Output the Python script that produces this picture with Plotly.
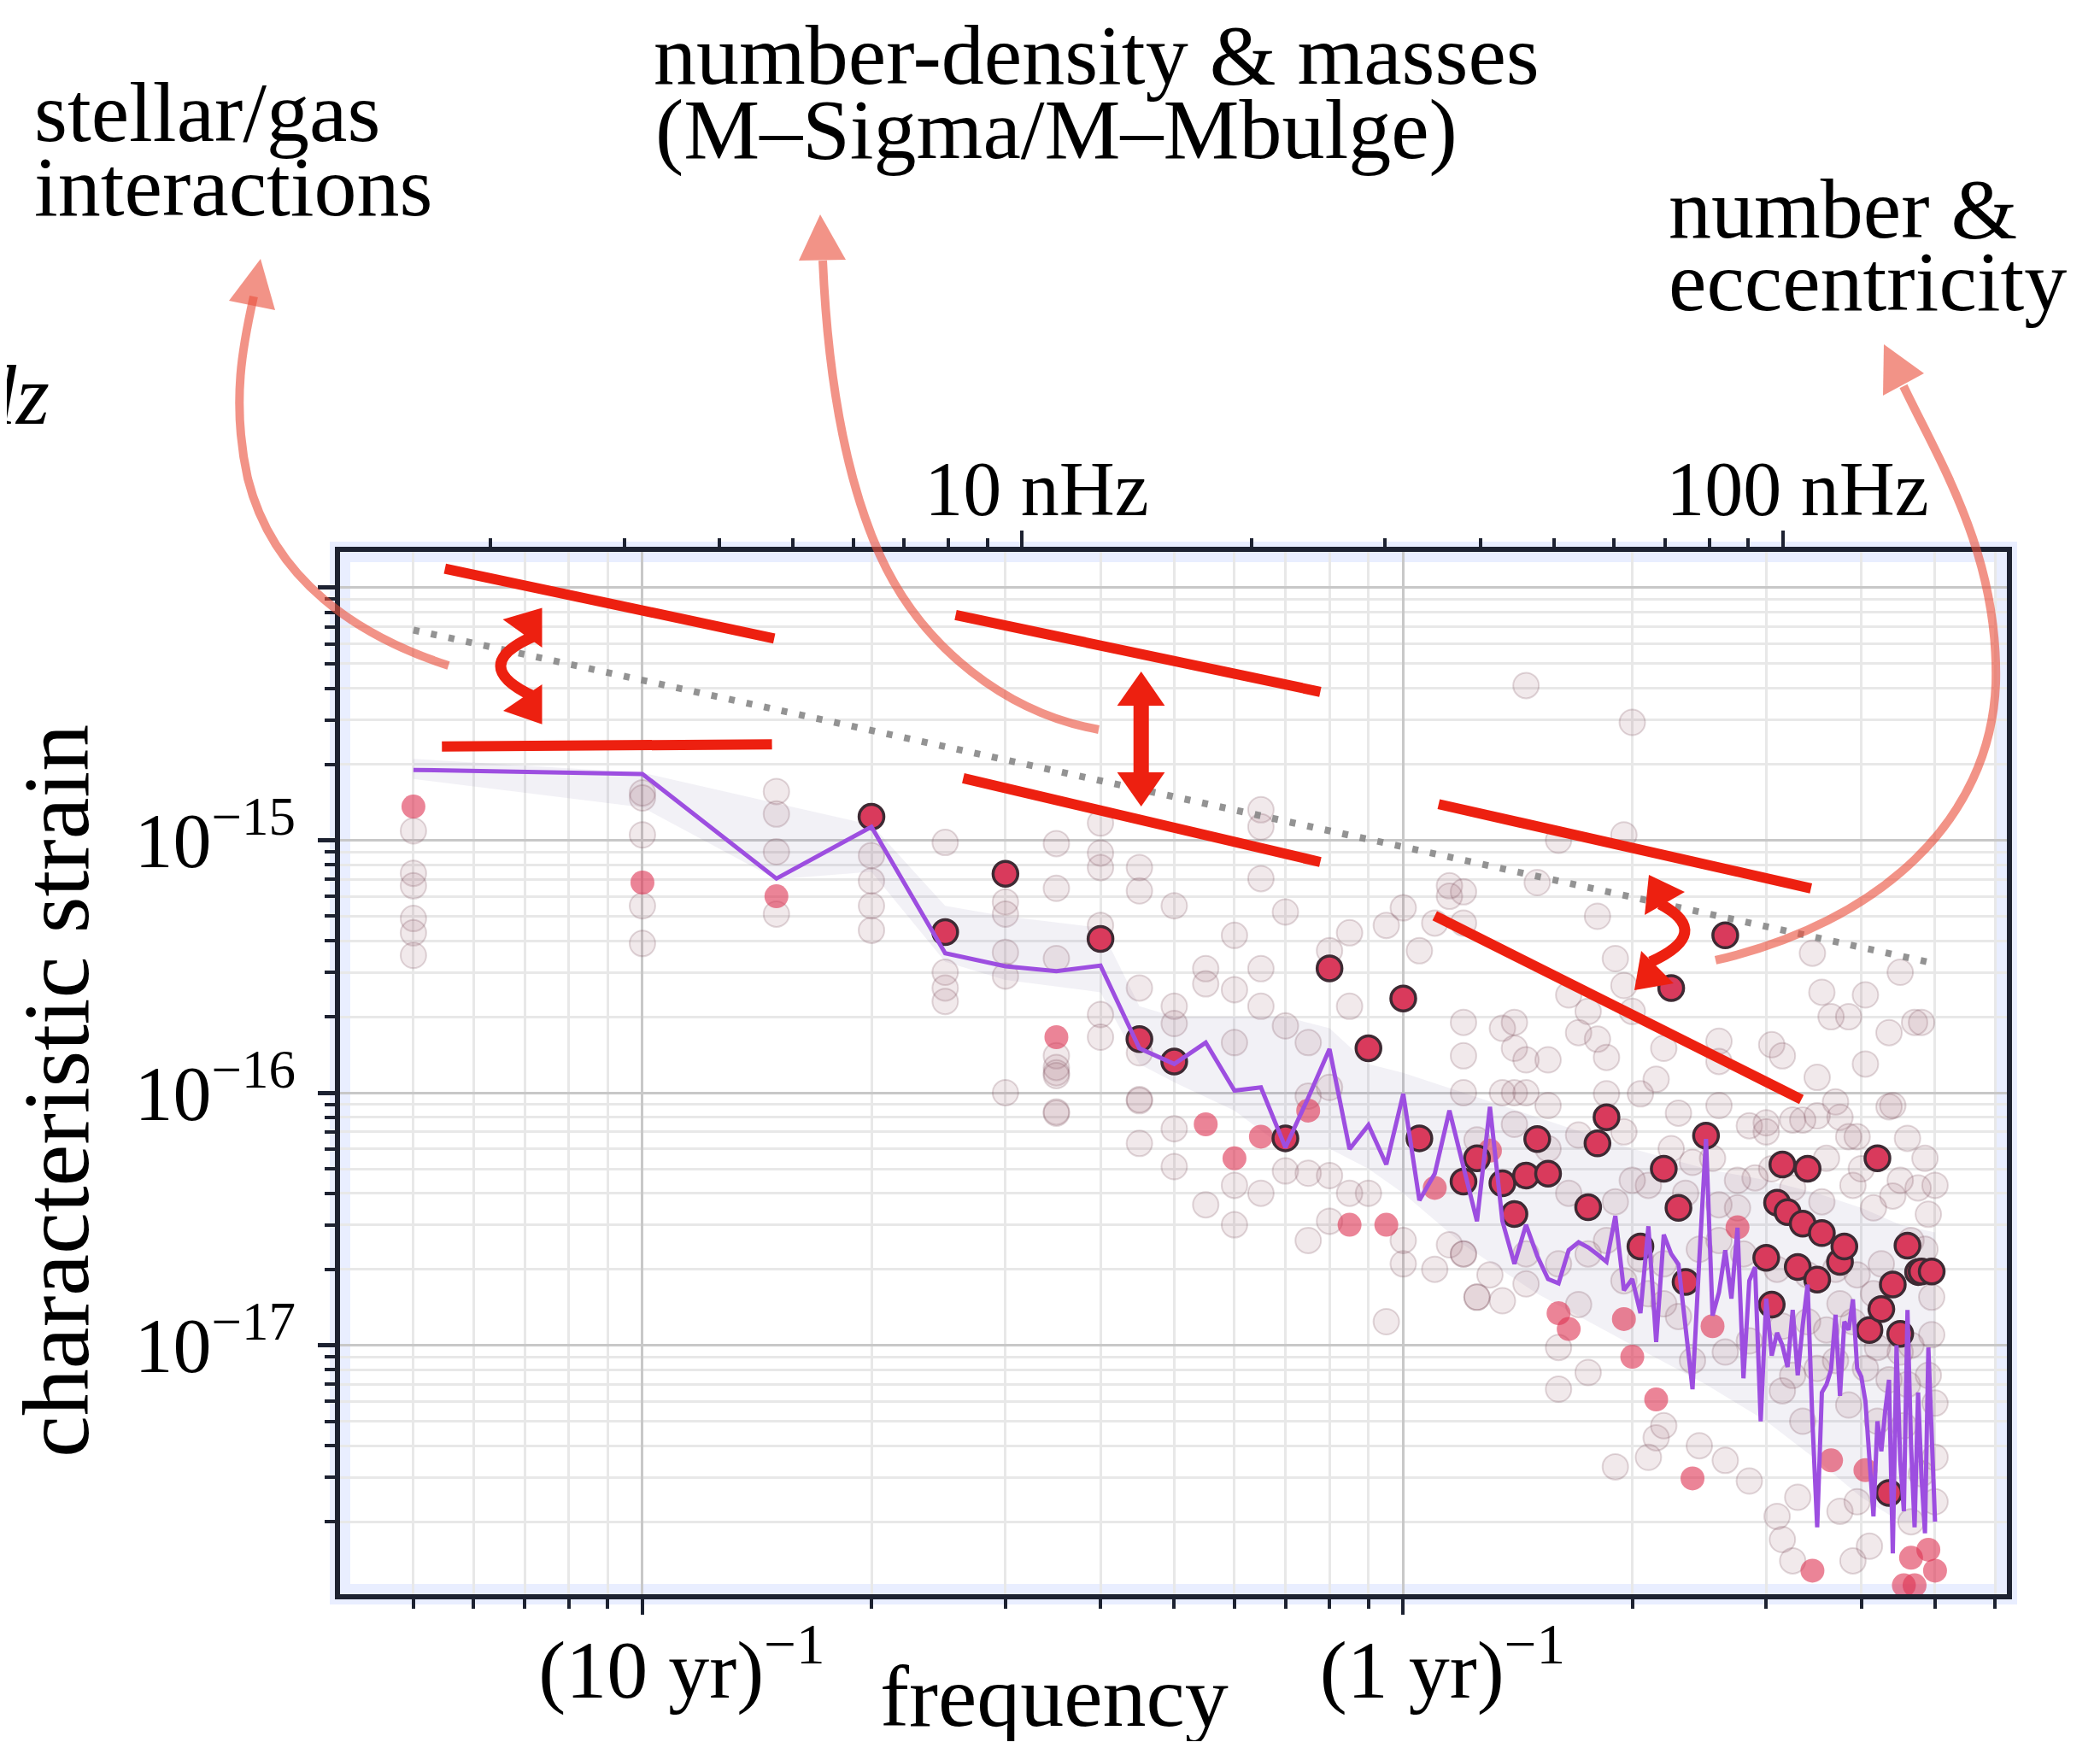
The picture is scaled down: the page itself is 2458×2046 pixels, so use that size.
import plotly.graph_objects as go

# ---------------- data ----------------
freq = [0.05, 0.10, 0.15, 0.20, 0.25, 0.30, 0.35, 0.40, 0.45, 0.50,
        0.55, 0.60, 0.65, 0.70, 0.75, 0.80, 0.85, 0.90, 0.95, 1.00,
        1.05, 1.10, 1.15, 1.20, 1.25, 1.30, 1.35, 1.40, 1.45, 1.50,
        1.55, 1.60, 1.65, 1.70, 1.75, 1.80, 1.85, 1.90, 1.95, 2.00,
        2.05, 2.10, 2.15, 2.20, 2.25, 2.30, 2.35, 2.40, 2.45, 2.50,
        2.55, 2.60, 2.65, 2.70, 2.75, 2.80, 2.85, 2.90, 2.95, 3.00,
        3.05, 3.10, 3.15, 3.20, 3.25, 3.30, 3.35, 3.40, 3.45, 3.50,
        3.55, 3.60, 3.65, 3.70, 3.75, 3.80, 3.85, 3.90, 3.95, 4.00,
        4.05, 4.10, 4.15, 4.20, 4.25, 4.30, 4.35, 4.40, 4.45, 4.50,
        4.55, 4.60, 4.65, 4.70, 4.75, 4.80, 4.85, 4.90, 4.95, 5.00]

median_h = [1.90e-15, 1.83e-15, 7.05e-16, 1.13e-15, 3.57e-16, 3.17e-16, 3.03e-16, 3.19e-16, 1.50e-16, 1.30e-16,
            1.58e-16, 1.02e-16, 1.05e-16, 6.07e-17, 9.55e-17, 1.49e-16, 5.98e-17, 7.45e-17, 5.2e-17, 9.9e-17,
            3.75e-17, 4.78e-17, 8.5e-17, 5.1e-17, 3.1e-17, 8.8e-17, 3.1e-17, 2.1e-17, 3.0e-17, 2.26e-17,
            1.83e-17, 1.76e-17, 2.38e-17, 2.56e-17, 2.44e-17, 2.29e-17, 2.14e-17, 3.25e-17, 1.65e-17, 1.83e-17,
            1.34e-17, 2.96e-17, 1.03e-17, 2.74e-17, 2.3e-17, 2.09e-17, 1.17e-17, 6.7e-18, 2.2e-17, 6.56e-17,
            1.31e-17, 1.62e-17, 2.38e-17, 1.53e-17, 2.92e-17, 7.4e-18, 1.8e-17, 2.04e-17, 5.0e-18, 1.53e-17,
            9.1e-18, 1.12e-17, 1.0e-17, 8.2e-18, 1.38e-17, 7.6e-18, 1.2e-17, 1.74e-17, 5.0e-18, 1.9e-18,
            6.5e-18, 7.0e-18, 8.0e-18, 1.32e-17, 6.3e-18, 1.24e-17, 1.15e-17, 1.52e-17, 8.1e-18, 7.5e-18,
            6.0e-18, 3.5e-18, 2.1e-18, 5.0e-18, 3.8e-18, 5.5e-18, 7.3e-18, 1.5e-18, 1.0e-17, 3.5e-18,
            2.2e-18, 1.38e-17, 4.0e-18, 1.9e-18, 6.5e-18, 3.0e-18, 1.8e-18, 9.8e-18, 4.0e-18, 2.0e-18]

# one highlighted realisation (outlined markers)
real_f = [0.20, 0.25, 0.30, 0.40, 0.45, 0.50, 0.70, 0.80, 0.90, 1.00,
          1.05, 1.20, 1.25, 1.35, 1.40, 1.45, 1.50, 1.55, 1.75, 1.80,
          1.85, 2.05, 2.20, 2.25, 2.30, 2.35, 2.50, 2.65, 3.00, 3.05,
          3.10, 3.15, 3.20, 3.30, 3.35, 3.40, 3.50, 3.55, 3.75, 3.80,
          4.10, 4.20, 4.25, 4.35, 4.40, 4.50, 4.60, 4.75, 4.80, 4.95]
real_h = [1.24e-15, 4.33e-16, 7.36e-16, 4.07e-16, 1.63e-16, 1.33e-16, 6.6e-17, 3.11e-16, 1.50e-16, 2.36e-16,
          6.6e-17, 4.45e-17, 5.5e-17, 4.38e-17, 3.31e-17, 4.7e-17, 6.56e-17, 4.78e-17, 3.52e-17, 6.3e-17,
          8.0e-17, 2.46e-17, 5.0e-17, 2.6e-16, 3.5e-17, 1.78e-17, 6.76e-17, 4.2e-16, 2.22e-17, 1.45e-17,
          3.67e-17, 5.2e-17, 3.37e-17, 2.04e-17, 3.03e-17, 5.0e-17, 1.82e-17, 2.78e-17, 2.14e-17, 2.46e-17,
          1.15e-17, 5.5e-17, 1.39e-17, 2.6e-18, 1.74e-17, 1.11e-17, 2.48e-17, 1.95e-17, 1.96e-17, 1.96e-17]

# second highlighted realisation (plain red markers)
pink_f = [0.05, 0.10, 0.15, 0.35, 0.55, 0.60, 0.65, 0.75, 0.85, 0.95,
          1.10, 1.30, 1.60, 1.65, 1.95, 2.00, 2.15, 2.40, 2.55, 2.75,
          3.45, 3.65, 4.05, 4.55, 4.65, 4.70, 4.90, 5.00]
pink_h = [1.36e-15, 6.8e-16, 6.0e-16, 1.66e-16, 7.5e-17, 5.5e-17, 6.7e-17, 8.5e-17, 3.0e-17, 3.0e-17,
          4.2e-17, 5.9e-17, 1.34e-17, 1.16e-17, 1.27e-17, 9.0e-18, 6.1e-18, 2.97e-18, 1.19e-17, 2.93e-17,
          1.28e-18, 3.5e-18, 3.2e-18, 1.12e-18, 1.44e-18, 1.12e-18, 1.55e-18, 1.28e-18]

# faint markers from the other realisations
faint_f = [0.05, 0.05, 0.05, 0.05, 0.05, 0.05, 0.10, 0.10, 0.10, 0.10, 0.10,
           0.15, 0.15, 0.15, 0.15, 0.20, 0.20, 0.20, 0.20, 0.25, 0.25, 0.25, 0.25,
           0.30, 0.30, 0.30, 0.30, 0.30, 0.35, 0.35, 0.35, 0.35, 0.35, 0.35,
           0.40, 0.40, 0.40, 0.40, 0.40, 0.40, 0.45, 0.45, 0.45, 0.45, 0.45,
           0.50, 0.50, 0.50, 0.55, 0.55, 0.60, 0.60, 0.60, 0.65, 0.65, 0.65, 0.65, 0.65,
           0.70, 0.70, 0.75, 0.75, 0.80, 0.80, 0.85, 0.85, 0.95, 1.00,
           1.05, 1.10, 1.15, 1.20, 1.20,
           0.35, 0.35, 0.35, 0.45, 0.45, 0.50, 0.50, 0.55, 0.60, 0.60, 0.75, 0.75, 0.65, 0.70,
           0.80, 0.80, 0.95, 0.90, 1.00, 1.10, 1.15, 1.20, 1.25, 1.00, 0.85,
           1.45, 2.00, 1.60, 1.95, 1.50, 1.80, 1.90, 3.45, 4.50, 3.55, 4.05, 3.65, 3.85, 4.35,
           4.70, 4.80, 4.05, 3.50, 3.05, 3.15, 2.60, 2.60, 2.20, 1.95, 2.00, 1.65, 1.75, 1.70,
           1.80, 1.85, 1.35, 1.40, 1.40, 1.45, 1.20, 1.20, 1.55, 2.15, 1.15,
           1.20, 1.35, 1.40, 1.45, 1.55, 1.85, 2.05, 2.30, 2.60, 2.85, 3.00, 3.25, 3.50, 3.75,
           3.85, 4.35, 4.60, 5.00, 4.90, 4.75, 4.40, 4.15, 3.90, 3.55, 3.25, 2.90, 2.75, 2.60,
           2.40, 2.10, 1.90, 1.85, 1.75, 1.60, 1.45, 1.30, 1.20, 1.25, 1.35, 1.45, 1.70, 1.60,
           1.60, 1.75, 1.90, 2.15, 2.20, 2.10, 2.45, 2.65, 2.85, 3.10, 3.30, 3.15, 3.25, 3.75,
           3.90, 4.10, 3.95, 4.20, 4.55, 5.00, 5.00, 5.00, 4.95, 4.90, 4.80, 4.65, 3.35, 3.25,
           3.15, 3.50, 3.70, 3.85, 4.05, 4.35, 4.60, 4.65, 4.50, 4.20, 3.90, 3.60, 3.40, 3.15,
           2.85, 2.65, 2.40, 2.30, 2.20, 2.10, 1.95, 2.05, 2.20, 2.45, 2.60, 2.80, 3.10, 3.40,
           3.70, 3.95, 4.25, 4.65, 4.85, 4.95, 4.15, 3.75, 3.00, 3.35, 3.70, 3.95, 4.40,
           1.25, 1.40, 1.55, 1.70, 1.95, 2.25, 2.55, 1.65, 2.00, 2.35, 2.75, 3.05, 3.60, 4.00,
           4.50, 4.85]
faint_h = [1.09e-15, 7.4e-16, 6.6e-16, 4.9e-16, 4.3e-16, 3.5e-16, 1.54e-15, 1.47e-15, 1.05e-15, 5.5e-16, 3.9e-16,
           1.56e-15, 1.27e-15, 9.0e-16, 5.1e-16, 8.7e-16, 6.9e-16, 5.5e-16, 4.4e-16, 9.8e-16, 3.0e-16, 2.6e-16, 2.3e-16,
           5.7e-16, 5.1e-16, 3.6e-16, 2.9e-16, 1.0e-16, 9.7e-16, 6.45e-16, 3.4e-16, 1.4e-16, 1.2e-16, 8.4e-17,
           1.17e-15, 8.9e-16, 7.8e-16, 4.6e-16, 2.04e-16, 1.66e-16, 7.8e-16, 6.3e-16, 2.6e-16, 1.44e-16, 9.3e-17,
           5.5e-16, 2.2e-16, 1.88e-16, 3.1e-16, 2.7e-16, 4.2e-16, 2.56e-16, 1.58e-16, 1.32e-15, 1.13e-15, 7.05e-16, 3.1e-16, 2.2e-16,
           5.2e-16, 1.84e-16, 1.58e-16, 9.7e-17, 3.65e-16, 1.05e-16, 4.3e-16, 2.2e-16, 4.6e-16, 5.4e-16,
           3.65e-16, 4.7e-16, 6.6e-16, 6.25e-16, 4.7e-16,
           1.26e-16, 1.17e-16, 8.3e-17, 9.4e-17, 6.3e-17, 7.2e-17, 5.1e-17, 3.6e-17, 4.3e-17, 3.0e-17, 4.8e-17, 2.6e-17, 4.0e-17, 4.9e-17,
           4.7e-17, 3.1e-17, 1.24e-17, 4.0e-17, 2.1e-17, 2.0e-17, 2.5e-17, 2.3e-17, 1.55e-17, 2.6e-17, 4.0e-17,
           4.1e-15, 2.93e-15, 1.0e-15, 1.05e-15, 6.8e-16, 5.0e-16, 3.4e-16, 3.57e-16, 3.0e-16, 2.5e-16, 2.44e-16, 2.0e-16, 2.0e-16, 1.73e-16,
           1.9e-16, 1.9e-16, 1.3e-16, 1.15e-16, 1.55e-16, 1.4e-16, 1.6e-16, 1.33e-16, 1.5e-16, 2.66e-16, 2.1e-16, 2.44e-16, 2.1e-16, 1.73e-16,
           1.63e-16, 1.38e-16, 1.8e-16, 1.9e-16, 1.5e-16, 1.35e-16, 1.9e-16, 1.4e-16, 1.35e-16, 1.13e-16, 6.0e-16,
           1.0e-16, 1.0e-16, 1.0e-16, 1.0e-16, 8.9e-17, 9.9e-17, 9.9e-17, 8.3e-17, 8.9e-17, 7.4e-17, 7.6e-17, 7.8e-17, 8.1e-17, 8.0e-17,
           6.7e-17, 8.8e-17, 6.6e-17, 4.3e-17, 3.3e-17, 4.2e-17, 3.9e-17, 3.5e-17, 4.3e-17, 3.7e-17, 4.2e-17, 4.6e-17, 4.5e-17, 3.6e-17,
           5.3e-17, 4.3e-17, 3.7e-17, 2.6e-17, 2.3e-17, 2.1e-17, 2.3e-17, 1.9e-17, 2.3e-17, 1.55e-17, 1.5e-17, 1.75e-17, 1.45e-17, 9.8e-18,
           6.7e-18, 7.8e-18, 3.3e-18, 4.3e-18, 4.8e-18, 3.6e-18, 4.0e-18, 3.5e-18, 2.9e-18, 2.1e-18, 2.5e-18, 1.7e-18, 1.4e-18, 2.2e-18,
           1.4e-18, 1.6e-18, 2.4e-18, 5.0e-18, 4.8e-18, 2.4e-18, 3.6e-18, 5.9e-18, 1.1e-17, 7.6e-18, 3.1e-18, 2.0e-18, 5.0e-18, 7.6e-18,
           6.6e-18, 8.1e-18, 8.7e-18, 5.8e-18, 8.1e-18, 7.3e-18, 7.0e-18, 1.0e-17, 9.4e-18, 9.8e-18, 1.24e-17, 1.15e-17, 1.24e-17, 1.19e-17,
           1.04e-17, 9.4e-18, 8.7e-18, 1.3e-17, 1.46e-17, 1.6e-17, 1.8e-17, 2.2e-17, 2.1e-17, 2.4e-17, 2.6e-17, 2.3e-17, 2.0e-17, 1.9e-17,
           2.0e-17, 1.9e-17, 2.1e-17, 2.6e-17, 2.4e-17, 1.55e-17, 1.6e-17, 1.46e-17, 7.0e-17, 7.8e-17, 9.2e-17, 6.7e-17, 8.9e-17,
           6.5e-17, 7.5e-17, 6.0e-17, 6.8e-17, 7.0e-17, 6.0e-17, 5.5e-17, 4.0e-17, 4.5e-17, 4.0e-17, 3.5e-17, 5.0e-17, 5.5e-17, 5.0e-17,
           4.5e-17, 5.5e-17]

# envelope of the faint realisation lines
band_f = [0.05, 0.10, 0.15, 0.20, 0.25, 0.30, 0.40, 0.45, 0.50, 0.60, 0.70, 0.80,
          0.90, 1.00, 1.20, 1.50, 2.00, 2.50, 3.00, 3.50, 4.00, 4.50, 5.00]
band_hi = [2.1e-15, 1.85e-15, 1.4e-15, 1.15e-15, 5.5e-16, 5.0e-16, 4.5e-16, 2.2e-16, 2.0e-16, 2.0e-16, 2.0e-16, 1.8e-16,
           1.3e-16, 1.2e-16, 1.0e-16, 8.0e-17, 6.0e-17, 5.0e-17, 4.5e-17, 4.0e-17, 3.5e-17, 3.0e-17, 2.8e-17]
band_lo = [1.75e-15, 1.35e-15, 7.0e-16, 7.5e-16, 3.3e-16, 2.8e-16, 2.5e-16, 1.3e-16, 1.1e-16, 8.5e-17, 6.0e-17, 6.0e-17,
           5.0e-17, 4.0e-17, 2.5e-17, 1.6e-17, 1.0e-17, 7.0e-18, 5.0e-18, 3.5e-18, 2.5e-18, 2.0e-18, 2.0e-18]

# f^(-2/3) reference (dotted), end points
ref_f = [0.05, 5.0]
ref_h = [6.8e-15, 3.25e-16]

# red guide segments (frequency, strain)
guide_f = [[0.055, 0.149], [0.0545, 0.148], [0.258, 0.778], [0.264, 0.778], [1.113, 3.435], [1.10, 3.337]]
guide_h = [[1.19e-14, 6.3e-15], [2.35e-15, 2.40e-15], [7.8e-15, 3.87e-15], [1.76e-15, 8.2e-16],
           [1.39e-15, 6.45e-16], [5.02e-16, 9.4e-17]]

NHZ_PER_INV_YR = 31.688

# ---------------- layout geometry (page pixels of the reference) ----------------
OFF = 8                       # default body margin of the html page
W, H = 2458 - 2 * OFF, 2046 - 2 * OFF
PL, PR, PT, PB = 398, 2349, 646, 1866
FRAME = '#1d2231'
FONT = 'Liberation Serif'


def px(x):
    return (x - PL) / (PR - PL)


def py(y):
    return (PB - y) / (PB - PT)


def path(cmds):
    out = []
    for c in cmds:
        if isinstance(c, str):
            out.append(c)
        else:
            out.append('%.5f,%.5f' % (px(c[0]), py(c[1])))
    return ' '.join(out)


def tri(a, b, c):
    return path(['M', a, 'L', b, 'L', c, 'Z'])


fig = go.Figure()

# faint envelope
fig.add_trace(go.Scatter(x=band_f, y=band_hi, mode='lines', line=dict(width=0),
                         hoverinfo='skip'))
fig.add_trace(go.Scatter(x=band_f, y=band_lo, mode='lines', line=dict(width=0),
                         fill='tonexty', fillcolor='rgba(115,95,150,0.09)', hoverinfo='skip'))

# faint markers
fig.add_trace(go.Scatter(x=faint_f, y=faint_h, mode='markers',
                         marker=dict(size=30, color='rgba(160,105,120,0.15)',
                                     line=dict(color='rgba(110,60,75,0.2)', width=2))))

# dotted reference
fig.add_trace(go.Scatter(x=ref_f, y=ref_h, mode='lines', xaxis='x2',
                         line=dict(color='rgba(135,135,135,0.9)', width=8, dash='7px,14px')))

# pink realisation
fig.add_trace(go.Scatter(x=pink_f, y=pink_h, mode='markers',
                         marker=dict(size=28, color='rgba(222,50,82,0.6)', line=dict(width=0))))

# outlined realisation
fig.add_trace(go.Scatter(x=real_f, y=real_h, mode='markers',
                         marker=dict(size=29, color='#d93a5c', line=dict(color='#3d2a33', width=3.5))))

# median (purple)
fig.add_trace(go.Scatter(x=freq, y=median_h, mode='lines',
                         line=dict(color='#9d4ee0', width=5)))

# red guide lines
for gf, gh in zip(guide_f, guide_h):
    fig.add_trace(go.Scatter(x=gf, y=gh, mode='lines', line=dict(color='#ed2010', width=12)))

# ---------------- shapes: arrows ----------------
SALMON = 'rgba(234,80,62,0.62)'
RED = '#ed2010'
shapes = []
shapes.append(dict(type='rect', xref='paper', yref='paper', x0=0, x1=1, y0=0, y1=1,
                   line=dict(color='rgba(100,135,255,0.14)', width=24), layer='below'))

arrow_shafts = [
    ['M', (525, 779), 'C', (420, 745), (320, 680), (290, 560), 'C', (270, 470), (285, 400), (297, 347)],
    ['M', (1286, 854), 'C', (1180, 835), (1080, 760), (1030, 650), 'C', (985, 550), (968, 420), (963, 305)],
    ['M', (2008, 1124), 'C', (2200, 1080), (2330, 960), (2336, 800), 'C', (2340, 650), (2270, 540), (2228, 452)],
]
for s in arrow_shafts:
    shapes.append(dict(type='path', xref='paper', yref='paper', path=path(s),
                       line=dict(color=SALMON, width=10), layer='above'))
arrow_heads = [
    ((305, 303), (268, 352), (322, 363)),
    ((960, 251), (935, 305), (990, 304)),
    ((2205, 403), (2204, 463), (2252, 437)),
]
for a, b, c in arrow_heads:
    shapes.append(dict(type='path', xref='paper', yref='paper', path=tri(a, b, c),
                       fillcolor=SALMON, line=dict(width=0), layer='above'))

red_shafts = [
    ['M', (624, 745), 'Q', (548, 779), (624, 815)],
    ['M', (1335.7, 822), 'L', (1335.7, 908)],
    ['M', (1943, 1058), 'Q', (2006, 1092), (1932, 1126)],
]
red_w = [13, 18, 13]
for s, w in zip(red_shafts, red_w):
    shapes.append(dict(type='path', xref='paper', yref='paper', path=path(s),
                       line=dict(color=RED, width=w), layer='above'))
red_heads = [
    ((588.5, 725), (634.5, 711.5), (634.5, 758)),
    ((589, 832), (634.5, 847.7), (634.5, 801)),
    ((1335.7, 786), (1307.6, 826), (1363.4, 826)),
    ((1335.7, 944), (1307.6, 904), (1363.4, 904)),
    ((1930, 1024), (1972, 1044), (1925, 1071)),
    ((1913, 1159), (1959, 1151), (1921, 1113)),
]
for a, b, c in red_heads:
    shapes.append(dict(type='path', xref='paper', yref='paper', path=tri(a, b, c),
                       fillcolor=RED, line=dict(width=0), layer='above'))

# ---------------- annotations (texts) ----------------
annotations = []
S = 100
text_lines = [
    ('stellar/gas', 38, 161),
    ('interactions', 38, 248),
    ('number-density &amp; masses', 763, 94),
    ('(M–Sigma/M–Mbulge)', 765, 181),
    ('number &amp;', 1951, 273),
    ('eccentricity', 1951, 359),
]
for t, xl, base in text_lines:
    annotations.append(dict(text=t, x=px(xl), y=py(base - 0.29 * S), xref='paper', yref='paper',
                            xanchor='left', yanchor='middle', showarrow=False,
                            font=dict(family=FONT, size=S, color='black')))
annotations.append(dict(text='<i>dz</i>', x=px(60), y=py(491 - 0.29 * S), xref='paper', yref='paper',
                        xanchor='right', yanchor='middle', showarrow=False,
                        font=dict(family=FONT, size=S, color='black')))
annotations.append(dict(text='frequency', x=px(1234), y=py(2018 - 0.32 * 102), xref='paper', yref='paper',
                        xanchor='center', yanchor='middle', showarrow=False,
                        font=dict(family=FONT, size=102, color='black')))
annotations.append(dict(text='characteristic strain', x=px(66), y=py(1277), xref='paper', yref='paper',
                        xanchor='center', yanchor='middle', showarrow=False, textangle=-90,
                        font=dict(family=FONT, size=110, color='black')))

# ---------------- axes ----------------
x_minor = [0.04, 0.05, 0.06, 0.07, 0.08, 0.09, 0.2, 0.3, 0.4, 0.5, 0.6, 0.7, 0.8, 0.9, 2, 3, 4, 5, 6]
top_major = [10 / NHZ_PER_INV_YR, 100 / NHZ_PER_INV_YR]
top_minor = [k / NHZ_PER_INV_YR for k in (2, 3, 4, 5, 6, 7, 8, 9, 20, 30, 40, 50, 60, 70, 80, 90, 200)]
y_minor = [k * 10.0 ** e for e in (-18, -17, -16, -15, -14) for k in range(2, 10)]
XR = [-1.3975, 0.7934]
YR = [-17.986, -13.858]
tickfont = dict(family=FONT, size=90, color='black')
xtickfont = dict(family=FONT, size=96, color='black')

fig.update_layout(
    width=W, height=H,
    margin=dict(l=PL - OFF, r=W - (PR - OFF), t=PT - OFF, b=H - (PB - OFF)),
    paper_bgcolor='white', plot_bgcolor='white',
    showlegend=False,
    font=dict(family=FONT, color='black'),
    shapes=shapes,
    annotations=annotations,
    xaxis=dict(type='log', range=XR, showline=True, mirror=True, linecolor=FRAME, linewidth=6,
               ticks='outside', ticklen=18, tickwidth=4, tickcolor=FRAME,
               tickmode='array', tickvals=[0.1, 1],
               ticktext=['(10 yr)<sup>−1</sup>', '(1 yr)<sup>−1</sup>'],
               tickfont=xtickfont, ticklabelshift=46, ticklabelstandoff=-18,
               showgrid=True, gridcolor='rgb(200,200,200)', gridwidth=3, zeroline=False,
               minor=dict(tickmode='array', tickvals=x_minor, ticks='outside', ticklen=11,
                          tickwidth=4, tickcolor=FRAME, showgrid=True,
                          gridcolor='rgb(232,232,232)', gridwidth=3)),
    xaxis2=dict(type='log', range=XR, overlaying='x', side='top', showline=True,
                linecolor=FRAME, linewidth=6, ticks='outside', ticklen=19, tickwidth=4,
                tickcolor=FRAME, tickmode='array', tickvals=top_major,
                ticktext=['10 nHz', '100 nHz'], tickfont=tickfont, ticklabelshift=17,
                ticklabelstandoff=-18, showgrid=False, zeroline=False,
                minor=dict(tickmode='array', tickvals=top_minor, ticks='outside', ticklen=10,
                           tickwidth=4, tickcolor=FRAME, showgrid=False)),
    yaxis=dict(type='log', range=YR, showline=True, mirror=True, linecolor=FRAME, linewidth=6,
               ticks='outside', ticklen=20, tickwidth=5, tickcolor=FRAME,
               tickmode='array', tickvals=[1e-14, 1e-15, 1e-16, 1e-17],
               ticktext=['', '10<sup>−15</sup>', '10<sup>−16</sup>', '10<sup>−17</sup>'],
               tickfont=tickfont, ticklabelstandoff=8,
               showgrid=True, gridcolor='rgb(200,200,200)', gridwidth=3, zeroline=False,
               minor=dict(tickmode='array', tickvals=y_minor, ticks='outside', ticklen=12,
                          tickwidth=4, tickcolor=FRAME, showgrid=True,
                          gridcolor='rgb(232,232,232)', gridwidth=3)),
)

fig.write_html("out.html")
